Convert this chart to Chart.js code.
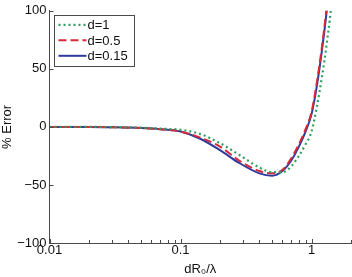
<!DOCTYPE html>
<html>
<head>
<meta charset="utf-8">
<script src="https://cdn.jsdelivr.net/npm/chart.js@4/dist/chart.umd.min.js"></script>
<style>
  html, body { margin: 0; padding: 0; background: #fff; }
  #wrap { width: 352px; height: 277px; position: relative; }
</style>
</head>
<body>
<div id="wrap"><canvas id="chart"></canvas></div>
<script>
// dR0/lambda sample points (log axis)
const xVals = [0.01, 0.02, 0.03, 0.05, 0.07, 0.1, 0.14, 0.2, 0.28, 0.4, 0.5, 0.6, 0.7, 0.8, 0.9, 1.0, 1.1, 1.2, 1.3, 1.4, 1.5];
// % error for each d
const errD1   = [0, 0, -0.2, -0.7, -1.5, -2.5, -6, -14, -24, -35, -39, -39, -34, -25, -15, -4, 18, 43, 70, 100, 140];
const errD05  = [0, 0, -0.3, -1, -2, -4, -9, -17, -29, -38, -40, -37, -27, -15, -2, 13, 39, 69, 102, 140, 180];
const errD015 = [0, 0, -0.3, -1, -2, -4, -10, -20, -31, -40, -42, -38, -29, -17, -4, 11, 36, 66, 98, 135, 175];
const seriesNames = ["d=1", "d=0.5", "d=0.15"];
const xTickVals = [0.01, 0.1, 1];
const yTickVals = [-100, -50, 0, 50, 100];

const AXIS = "#4a4a4a";
const FONT = "'Liberation Sans', Arial, Helvetica, sans-serif";

function pts(ys) {
  return xVals.map((x, i) => ({ x, y: ys[i] }));
}

function fmtTick(v) {
  return v < 0 ? "\u2212" + Math.abs(v) : String(v);
}

// inward tick marks like the original plot
const axisTicks = {
  id: "axisTicks",
  afterDraw(chart) {
    const { ctx, chartArea: a, scales: { x, y } } = chart;
    ctx.save();
    ctx.strokeStyle = AXIS;
    ctx.lineWidth = 1;
    ctx.beginPath();
    yTickVals.forEach((v) => {
      const py = Math.round(y.getPixelForValue(v)) + 0.5;
      ctx.moveTo(a.left, py);
      ctx.lineTo(a.left + 4, py);
    });
    for (let dec = 0.01; dec < 2; dec *= 10) {
      for (let k = 1; k <= 9; k++) {
        const v = dec * k;
        if (v > 2) break;
        const px = Math.round(x.getPixelForValue(v)) + 0.5;
        ctx.moveTo(px, a.bottom);
        ctx.lineTo(px, a.bottom - (k === 1 ? 4 : 3));
      }
    }
    ctx.stroke();
    ctx.restore();
  },
};

// boxed legend in the upper-left corner of the plot
const boxLegend = {
  id: "boxLegend",
  afterDraw(chart) {
    const { ctx, chartArea: a } = chart;
    const bx = a.left + 4, by = a.top + 4, bw = 80, bh = 51;
    ctx.save();
    ctx.fillStyle = "#fff";
    ctx.fillRect(bx, by, bw, bh);
    ctx.strokeStyle = AXIS;
    ctx.lineWidth = 1;
    ctx.strokeRect(Math.round(bx) + 0.5, Math.round(by) + 0.5, bw, bh);
    ctx.font = "13px " + FONT;
    ctx.textBaseline = "middle";
    chart.data.datasets.forEach((ds, i) => {
      const cy = by + 10 + i * 15.5;
      ctx.strokeStyle = ds.borderColor;
      ctx.lineWidth = ds.borderWidth;
      ctx.setLineDash(ds.borderDash || []);
      ctx.beginPath();
      ctx.moveTo(bx + 5, cy);
      ctx.lineTo(bx + 33, cy);
      ctx.stroke();
      ctx.setLineDash([]);
      ctx.fillStyle = "#111";
      ctx.fillText(ds.label, bx + 34, cy + 1);
    });
    ctx.restore();
  },
};

const datasets = [
  { label: seriesNames[0], data: pts(errD1), borderColor: "#2f9e5f", borderWidth: 2.2, borderDash: [2, 3] },
  { label: seriesNames[1], data: pts(errD05), borderColor: "#d42a3a", borderWidth: 2, borderDash: [8, 4] },
  { label: seriesNames[2], data: pts(errD015), borderColor: "#2e3a9c", borderWidth: 2 },
].map((d) => Object.assign(d, { pointRadius: 0, cubicInterpolationMode: "monotone", fill: false }));

new Chart(document.getElementById("chart").getContext("2d"), {
  type: "line",
  data: { datasets },
  options: {
    responsive: true,
    maintainAspectRatio: false,
    animation: false,
    layout: { padding: { top: 10, right: 1, left: 0, bottom: 0 } },
    plugins: { legend: { display: false }, tooltip: { enabled: false } },
    scales: {
      x: {
        type: "logarithmic",
        min: 0.01,
        max: 2,
        afterBuildTicks: (s) => { s.ticks = xTickVals.map((v) => ({ value: v })); },
        afterFit: (s) => { s.height = 34; },
        ticks: { color: "#111", font: { size: 13, family: FONT }, padding: 0, maxRotation: 0, callback: (v) => String(v) },
        grid: { display: false, drawTicks: false },
        border: { display: true, color: AXIS, width: 1 },
        title: { display: true, text: "dR\u2080/\u03bb", color: "#111", font: { size: 13, family: FONT }, padding: { top: 0, bottom: 0 } },
      },
      y: {
        min: -100,
        max: 100,
        afterBuildTicks: (s) => { s.ticks = yTickVals.map((v) => ({ value: v })); },
        afterFit: (s) => { s.width = 49.5; },
        ticks: { color: "#111", font: { size: 13, family: FONT }, padding: 3, callback: (v) => fmtTick(v) },
        grid: { display: false, drawTicks: false },
        border: { display: true, color: AXIS, width: 1 },
        title: { display: true, text: "% Error", color: "#111", font: { size: 13, family: FONT }, padding: { top: 0, bottom: 0 } },
      },
    },
  },
  plugins: [axisTicks, boxLegend],
});
</script>
</body>
</html>
